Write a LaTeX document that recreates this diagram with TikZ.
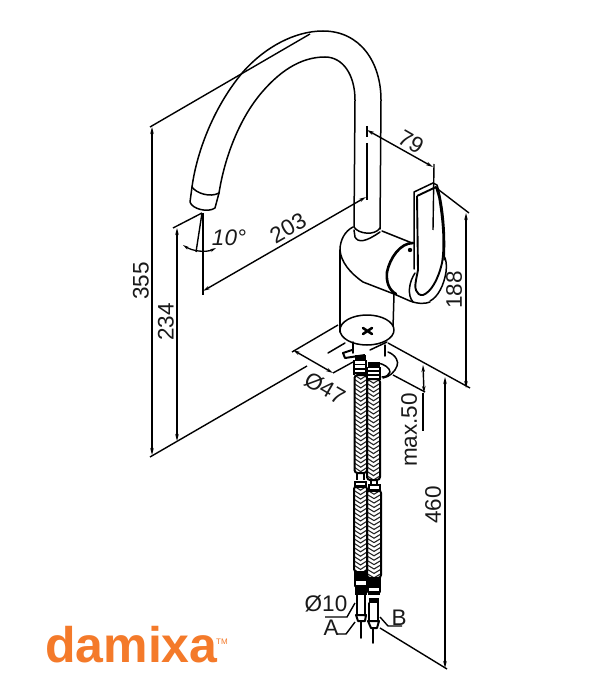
\documentclass[tikz,border=0pt]{standalone}
\usepackage{fontspec}
\setmainfont{Liberation Sans}
\usetikzlibrary{arrows.meta}
\definecolor{damixaorange}{HTML}{F47A2A}
\tikzset{
  x=1pt,y=-1pt,
  outline/.style={line width=1.5pt,line cap=round,line join=round},
  heavy/.style={line width=2.6pt,line cap=round,line join=round},
  dimline/.style={line width=1.4pt},
  dimarrow/.style={line width=1.4pt,{Stealth[length=7pt,width=3.5pt]}-{Stealth[length=7pt,width=3.5pt]}},
  dimtext/.style={font=\fontsize{22.5}{24}\selectfont,inner sep=0pt,text=black!90},
}
\newcommand{\hosepart}[4]{%
  \pgfmathsetmacro{\xmid}{(#1+#2)/2}
  \pgfmathsetmacro{\ysec}{#3+4.4}
  \begin{scope}
    \clip[rounded corners=3pt] (#1,#3) rectangle (#2,#4);
    \foreach \yy in {#3,\ysec,...,#4}{
      \draw[line width=1.1pt,black!85] (#1,\yy) -- (\xmid,\yy+4.2) -- (#2,\yy);
    }
  \end{scope}
  \draw[line width=2pt,rounded corners=3pt] (#1,#3) rectangle (#2,#4);
}
\begin{document}
\begin{tikzpicture}
\useasboundingbox[fill=white] (0,0) rectangle (600,700);

% spout
\draw[outline] (192,187) .. controls (197,150) and (215,105) .. (243,72)
  .. controls (265,47) and (295,31) .. (323,31)
  .. controls (360,31) and (381,62) .. (381,100) -- (380,229);
\draw[outline] (219,193) .. controls (225,155) and (240,120) .. (258,97)
  .. controls (278,72) and (300,57) .. (325,57)
  .. controls (343,57) and (355,75) .. (355,100) -- (354,227);
% nozzle
\draw[outline] (192,187) .. controls (196,193) and (210,198) .. (219,193);
\draw[outline] (192,187) -- (190,202) .. controls (192,209) and (208,213) .. (215,208) -- (219,193);
% collar at spout base
\draw[outline] (354,227) .. controls (358,234) and (375,236) .. (380,228);
\draw[outline] (354,230) -- (355,237) .. controls (358,243) and (366,242) .. (380,232);
% body
\draw[outline] (353,227) .. controls (345,231) and (340,240) .. (340,250)
  .. controls (341,262) and (350,273) .. (363,282) -- (394,294);
\draw[outline] (382,231) -- (412,243);
\draw[outline] (340,250) -- (340,332);
\draw[outline] (394,294) -- (393,328);
% knob front
\draw[heavy] (413,243) .. controls (400,243) and (390,258) .. (387,272) .. controls (386,282) and (389,290) .. (396,294);
\draw[outline] (394,294) -- (410,301) .. controls (418,304) and (425,304) .. (430,302);
\draw[outline] (415,273) .. controls (409,282) and (407,295) .. (413,302);
\draw[outline] (430,301) .. controls (438,297) and (444,285) .. (446,272) .. controls (447,265) and (446,259) .. (444,256);
\fill (410,250) circle (2.2);
% handle
\draw[outline] (433,183) -- (414,192) -- (414,269);
\draw[line width=1.9pt,line join=round] (417,196) -- (436,187) -- (439,197) .. controls (443,220) and (445,245) .. (442,263)
  .. controls (438,280) and (431,292) .. (423,295) .. controls (416,296) and (414,287) .. (416,280) -- (418,270) -- (417,196);
\draw[outline] (433,183) -- (437,185) .. controls (442,200) and (446,230) .. (444,260);

% base disc
\draw[outline,fill=white] (367,330) ellipse (27 and 15);
\draw[heavy] (363,328) -- (372,334) (372,328) -- (363,334);
% below the deck
\draw[outline] (353,342) -- (353,353);
\draw[outline] (385,345) -- (385,356);
\draw[outline] (370,350) -- (387,342);
\draw[outline] (328,353) -- (345,343);
\draw[outline] (388,352) .. controls (396,355) and (399,362) .. (397,366) .. controls (395,372) and (389,377) .. (383,378);
\draw[outline] (378,363) .. controls (384,364) and (390,368) .. (390,372) .. controls (389,375) and (386,377) .. (382,377);
% mounting parts
\draw[line width=2pt,line join=round] (352,350) -- (343,353) -- (345,358) -- (365,355);
\fill (355,355) rectangle (366,361);
\fill (368,362) rectangle (380,368);
\begin{scope}[line width=1.9pt]
  \draw (354,360) -- (354,375) (366,360) -- (366,375);
  \draw (354,364.5) -- (366,364.5) (354,369) -- (366,369) (354,373) -- (366,373);
  \draw (367,367) -- (367,380) (380,367) -- (380,380);
  \draw (367,371) -- (380,371) (367,375) -- (380,375) (367,379) -- (380,379);
\end{scope}

% hoses
\hosepart{354.5}{367}{375}{473}
\hosepart{367}{380}{379}{480}
\hosepart{354}{367}{486}{572}
\hosepart{367}{381}{490}{578}
\draw[line width=1.5pt] (357,473) -- (357,480) (364,473) -- (364,480) (371,480) -- (371,484) (377,480) -- (377,484);
\draw[line width=2pt] (355,482) rectangle (366,487);
\draw[line width=2pt] (369,485) rectangle (380,491);

% hose ends
\begin{scope}[outline]
  \fill (354,572) rectangle (367,581);
  \fill (355,584.5) rectangle (367,595);
  \draw[line width=2pt] (355,581) -- (355,586) (367,581) -- (367,586);
  \draw (357,595) -- (357,616) (365,595) -- (365,616);
  \draw[line width=2pt,fill=white] (356,615) -- (366,615) -- (365,621) -- (358,621) -- cycle;
  \draw (361,621) -- (361,638);
  \fill (367,577) rectangle (381,588);
  \fill (368,591) rectangle (380,595);
  \fill (369,598) rectangle (379,603);
  \draw[line width=2pt] (368,588) -- (368,592) (380,588) -- (380,592);
  \draw (369,603) -- (369,621) (378,603) -- (378,621);
  \draw[line width=2pt,fill=white] (368,621) -- (379,621) -- (377,628) -- (371,628) -- cycle;
  \draw (373,628) -- (373,643);
\end{scope}

% extension and dimension lines
\coordinate (t355) at (150,127);
\coordinate (b355) at (150,457);
\draw[dimline] (t355) -- (310,34);
\draw[dimline] (b355) -- (307,366);
\draw[dimarrow] (152,127) -- (152,455);
\draw[dimline] (173,228) -- (202,213);
\draw[dimarrow] (177,228) -- (177,441);
\draw[dimline] (203,213) -- (203,295);
\draw[dimarrow] (203,291) -- (366,197);
\draw[dimline] (202,213) -- (196,252);
\draw[line width=1.3pt,{Stealth[length=6pt,width=3pt]}-{Stealth[length=6pt,width=3pt]}] (183,245) .. controls (192,251) and (206,253) .. (216,248);
\draw[dimline] (367,126) -- (367,137) (367,143) -- (367,200);
\draw[dimline] (434,164) -- (433,230);
\draw[dimarrow] (367,130) -- (433,167);
\draw[dimline] (435,187) -- (469,213);
\draw[dimarrow] (466,213) -- (466,388);
\draw[dimline] (388,343) -- (470,388);
\draw[dimarrow] (423,365) -- (424,393);
\draw[dimline] (423,393) -- (423,431);
\draw[dimline] (393,375) -- (425,392);
\draw[dimarrow] (445,377) -- (445,668);
\draw[dimline] (380,628) -- (447,669);
\draw[dimline] (292,352) -- (338,325);
\draw[dimline] (333,373) -- (353,362);
\draw[dimarrow] (293,350) -- (333,373);
% leaders
\draw[dimline] (325,617) -- (347,617) -- (355,603);
\draw[dimline] (337,634) -- (346,634) -- (355,622);
\draw[dimline] (380,617) -- (388,626) -- (402,626);

% labels
\node[dimtext,rotate=-30] (l79) at (411,142) {79};
\node[dimtext,rotate=30] (l203) at (288,228) {203};
\node[dimtext,font=\fontsize{22.5}{24}\selectfont\itshape] (l10) at (229,238) {10°};
\node[dimtext,rotate=90] (l355) at (141,281) {355};
\node[dimtext,rotate=90] (l234) at (166,322) {234};
\node[dimtext,rotate=90] (l188) at (454,290) {188};
\node[dimtext,rotate=90] (lmax) at (409,430) {max.50};
\node[dimtext,rotate=90] (l460) at (433,505) {460};
\node[dimtext,rotate=-30] (l47) at (325,388) {Ø47};
\node[dimtext] (l10d) at (326,604) {Ø10};
\node[dimtext] (lA) at (331,628) {A};
\node[dimtext] (lB) at (399,618) {B};

% logo
\node[anchor=base west,inner sep=0pt,text=damixaorange,font=\fontsize{50}{52}\selectfont\bfseries] (logo) at (45,662) {damixa};
\node[anchor=base west,inner sep=0pt,text=damixaorange,font=\fontsize{8}{9}\selectfont] (tm) at (216,644) {TM};
\end{tikzpicture}
\end{document}
